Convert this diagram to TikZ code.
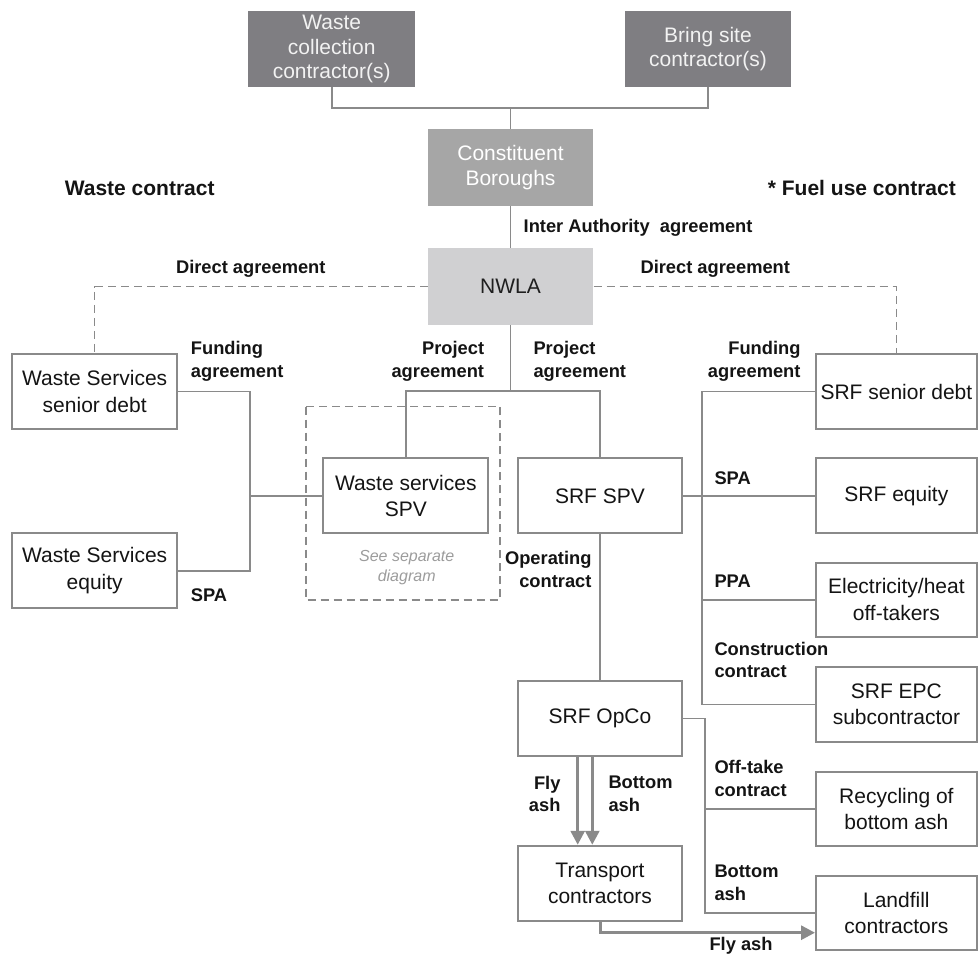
\documentclass[tikz,border=0pt]{standalone}
\usepackage{fontspec}
\setmainfont{Liberation Sans}
\usetikzlibrary{arrows.meta,calc}
\definecolor{dkbox}{HTML}{7F7E82}
\definecolor{mdbox}{HTML}{A6A6A6}
\definecolor{ltbox}{HTML}{D0D0D2}
\definecolor{linec}{HTML}{8A8A8A}
\definecolor{boxline}{HTML}{8A8A8A}
\definecolor{notec}{HTML}{9C9C9C}
\begin{document}
\begin{tikzpicture}[x=1pt,y=-1pt,
  box/.style={draw=boxline, line width=1.8pt, fill=white, inner sep=0pt, align=center,
    font=\fontsize{21}{26.5}\selectfont, text=black!92},
  topbox/.style={fill=#1, draw=none, inner sep=0pt, align=center,
    font=\fontsize{21}{24.5}\selectfont},
  conn/.style={draw=linec, line width=1.8pt},
  dashconn/.style={draw=linec, line width=1.5pt, dash pattern=on 8pt off 5pt},
  flow/.style={draw=linec, line width=3pt, -{Triangle[width=14pt,length=14pt]}},
  lab/.style={font=\bfseries\fontsize{18.3}{22.7}\selectfont, inner sep=0pt, text=black!92},
  biglab/.style={font=\bfseries\fontsize{21}{25}\selectfont, inner sep=0pt, text=black!92},
  note/.style={font=\itshape\fontsize{16}{20}\selectfont, inner sep=0pt, text=notec, align=center},
]
\useasboundingbox (0,0) rectangle (978,955);

% top boxes
\node[topbox=dkbox, text=white!95!black, minimum width=166.7pt, minimum height=76.6pt] (wcc) at (331.7,49) {Waste\\collection\\contractor(s)};
\node[topbox=dkbox, text=white!95!black, minimum width=166pt, minimum height=76.6pt] (bsc) at (708,49) {Bring site\\contractor(s)};
\node[topbox=mdbox, text=white, minimum width=165.6pt, minimum height=76.4pt] (cb) at (510.5,167.5) {Constituent\\Boroughs};
\node[topbox=ltbox, text=black!88, minimum width=165.6pt, minimum height=76.7pt] (nwla) at (510.5,286.7) {NWLA};

% main boxes
\node[box, minimum width=164.7pt, minimum height=75pt] (wsd) at (94.7,391.5) {Waste Services\\senior debt};
\node[box, minimum width=164.7pt, minimum height=75pt] (wse) at (94.7,570.8) {Waste Services\\equity};
\node[box, minimum width=165pt, minimum height=75pt] (wspv) at (405.8,495.8) {Waste services\\SPV};
\node[box, minimum width=164.6pt, minimum height=75pt] (srfspv) at (600,495.8) {SRF SPV};
\node[box, minimum width=161pt, minimum height=75pt] (srfdebt) at (896.4,391.5) {SRF senior debt};
\node[box, minimum width=161pt, minimum height=75pt] (srfeq) at (896.4,495.8) {SRF equity};
\node[box, minimum width=161pt, minimum height=74pt] (elec) at (896.4,599.7) {Electricity/heat\\off-takers};
\node[box, minimum width=161pt, minimum height=74.4pt] (epc) at (896.4,704.5) {SRF EPC\\subcontractor};
\node[box, minimum width=164.6pt, minimum height=75pt] (opco) at (600,718.5) {SRF OpCo};
\node[box, minimum width=161pt, minimum height=74.3pt] (recyc) at (896.4,808.8) {Recycling of\\bottom ash};
\node[box, minimum width=164.6pt, minimum height=75.3pt] (transport) at (600,883.3) {Transport\\contractors};
\node[box, minimum width=161pt, minimum height=74pt] (landfill) at (896.4,913) {Landfill\\contractors};

% dashed frame and note
\draw[dashconn] (306,406.7) rectangle (500,600);
\node[note] (seenote) at (406.7,567.7) {See separate\\diagram};

% connectors top
\coordinate (jtop) at (510.5,108.3);
\draw[conn] (wcc.south) |- (jtop) -| (bsc.south);
\draw[conn] (jtop) -- (cb.north);
\draw[conn] (cb.south) -- (nwla.north);

% direct agreements
\draw[dashconn] (nwla.west) -| (wsd.north);
\draw[dashconn] (nwla.east) -| (srfdebt.north);

% project agreements
\coordinate (jpa) at (510.5,391.3);
\draw[conn] (nwla.south) -- (jpa);
\draw[conn] (wspv.north) |- (jpa) -| (srfspv.north);

% left funding
\coordinate (jl) at (250.3,495.8);
\draw[conn] (wsd.east) -| (jl) |- (wse.east);
\draw[conn] (jl) -- (wspv.west);

% right bus
\coordinate (jr) at (702.3,495.8);
\draw[conn] (srfdebt.west) -| (jr) |- (epc.west);
\draw[conn] (srfspv.east) -- (srfeq.west);
\draw[conn] (jr |- elec.west) -- (elec.west);

% operating
\draw[conn] (srfspv.south) -- (opco.north);
\coordinate (jo) at (705,718.5);
\draw[conn] (opco.east) -- (jo) |- (landfill.west);
\draw[conn] (jo |- recyc.west) -- (recyc.west);

% ash flows
\draw[flow] ($(opco.south)+(-22.3,0)$) -- ($(transport.north)+(-22.3,0)$);
\draw[flow] ($(opco.south)+(-7.7,0)$) -- ($(transport.north)+(-7.7,0)$);
\draw[flow] (transport.south) |- ($(landfill.west)+(0,19.7)$);

% labels
\node[biglab, anchor=west] (lwc) at (64.6,188) {Waste contract};
\node[biglab, anchor=east] (lfuc) at (956,188) {* Fuel use contract};
\node[lab, anchor=west] (lia) at (523.5,228) {Inter Authority\ \ agreement};
\node[lab] (lda1) at (250.8,269) {Direct agreement};
\node[lab] (lda2) at (715.3,269) {Direct agreement};
\node[lab, anchor=west, align=left] (lfa1) at (190.7,361.3) {Funding\\agreement};
\node[lab, anchor=east, align=right] (lpa1) at (484.3,361.3) {Project\\agreement};
\node[lab, anchor=west, align=left] (lpa2) at (533.3,361.3) {Project\\agreement};
\node[lab, anchor=east, align=right] (lfa2) at (800.7,361.3) {Funding\\agreement};
\node[lab, anchor=west] (lspa1) at (190.7,595) {SPA};
\node[lab, anchor=west] (lspa2) at (714.3,477.7) {SPA};
\node[lab, anchor=west] (lppa) at (714.3,581.7) {PPA};
\node[lab, anchor=east, align=right] (lop) at (591.7,569.7) {Operating\\contract};
\node[lab, anchor=west, align=left] (lcc) at (714.3,660) {Construction\\contract};
\node[lab, anchor=west, align=left] (lot) at (714.3,778.8) {Off-take\\contract};
\node[lab, anchor=east, align=right] (lfly) at (560.7,794) {Fly\\ash};
\node[lab, anchor=west, align=left] (lbot) at (608.3,794) {Bottom\\ash};
\node[lab, anchor=west, align=left] (lbot2) at (714.3,883) {Bottom\\ash};
\node[lab, anchor=west] (lfly2) at (709.3,946) {Fly ash};
\end{tikzpicture}
\end{document}
